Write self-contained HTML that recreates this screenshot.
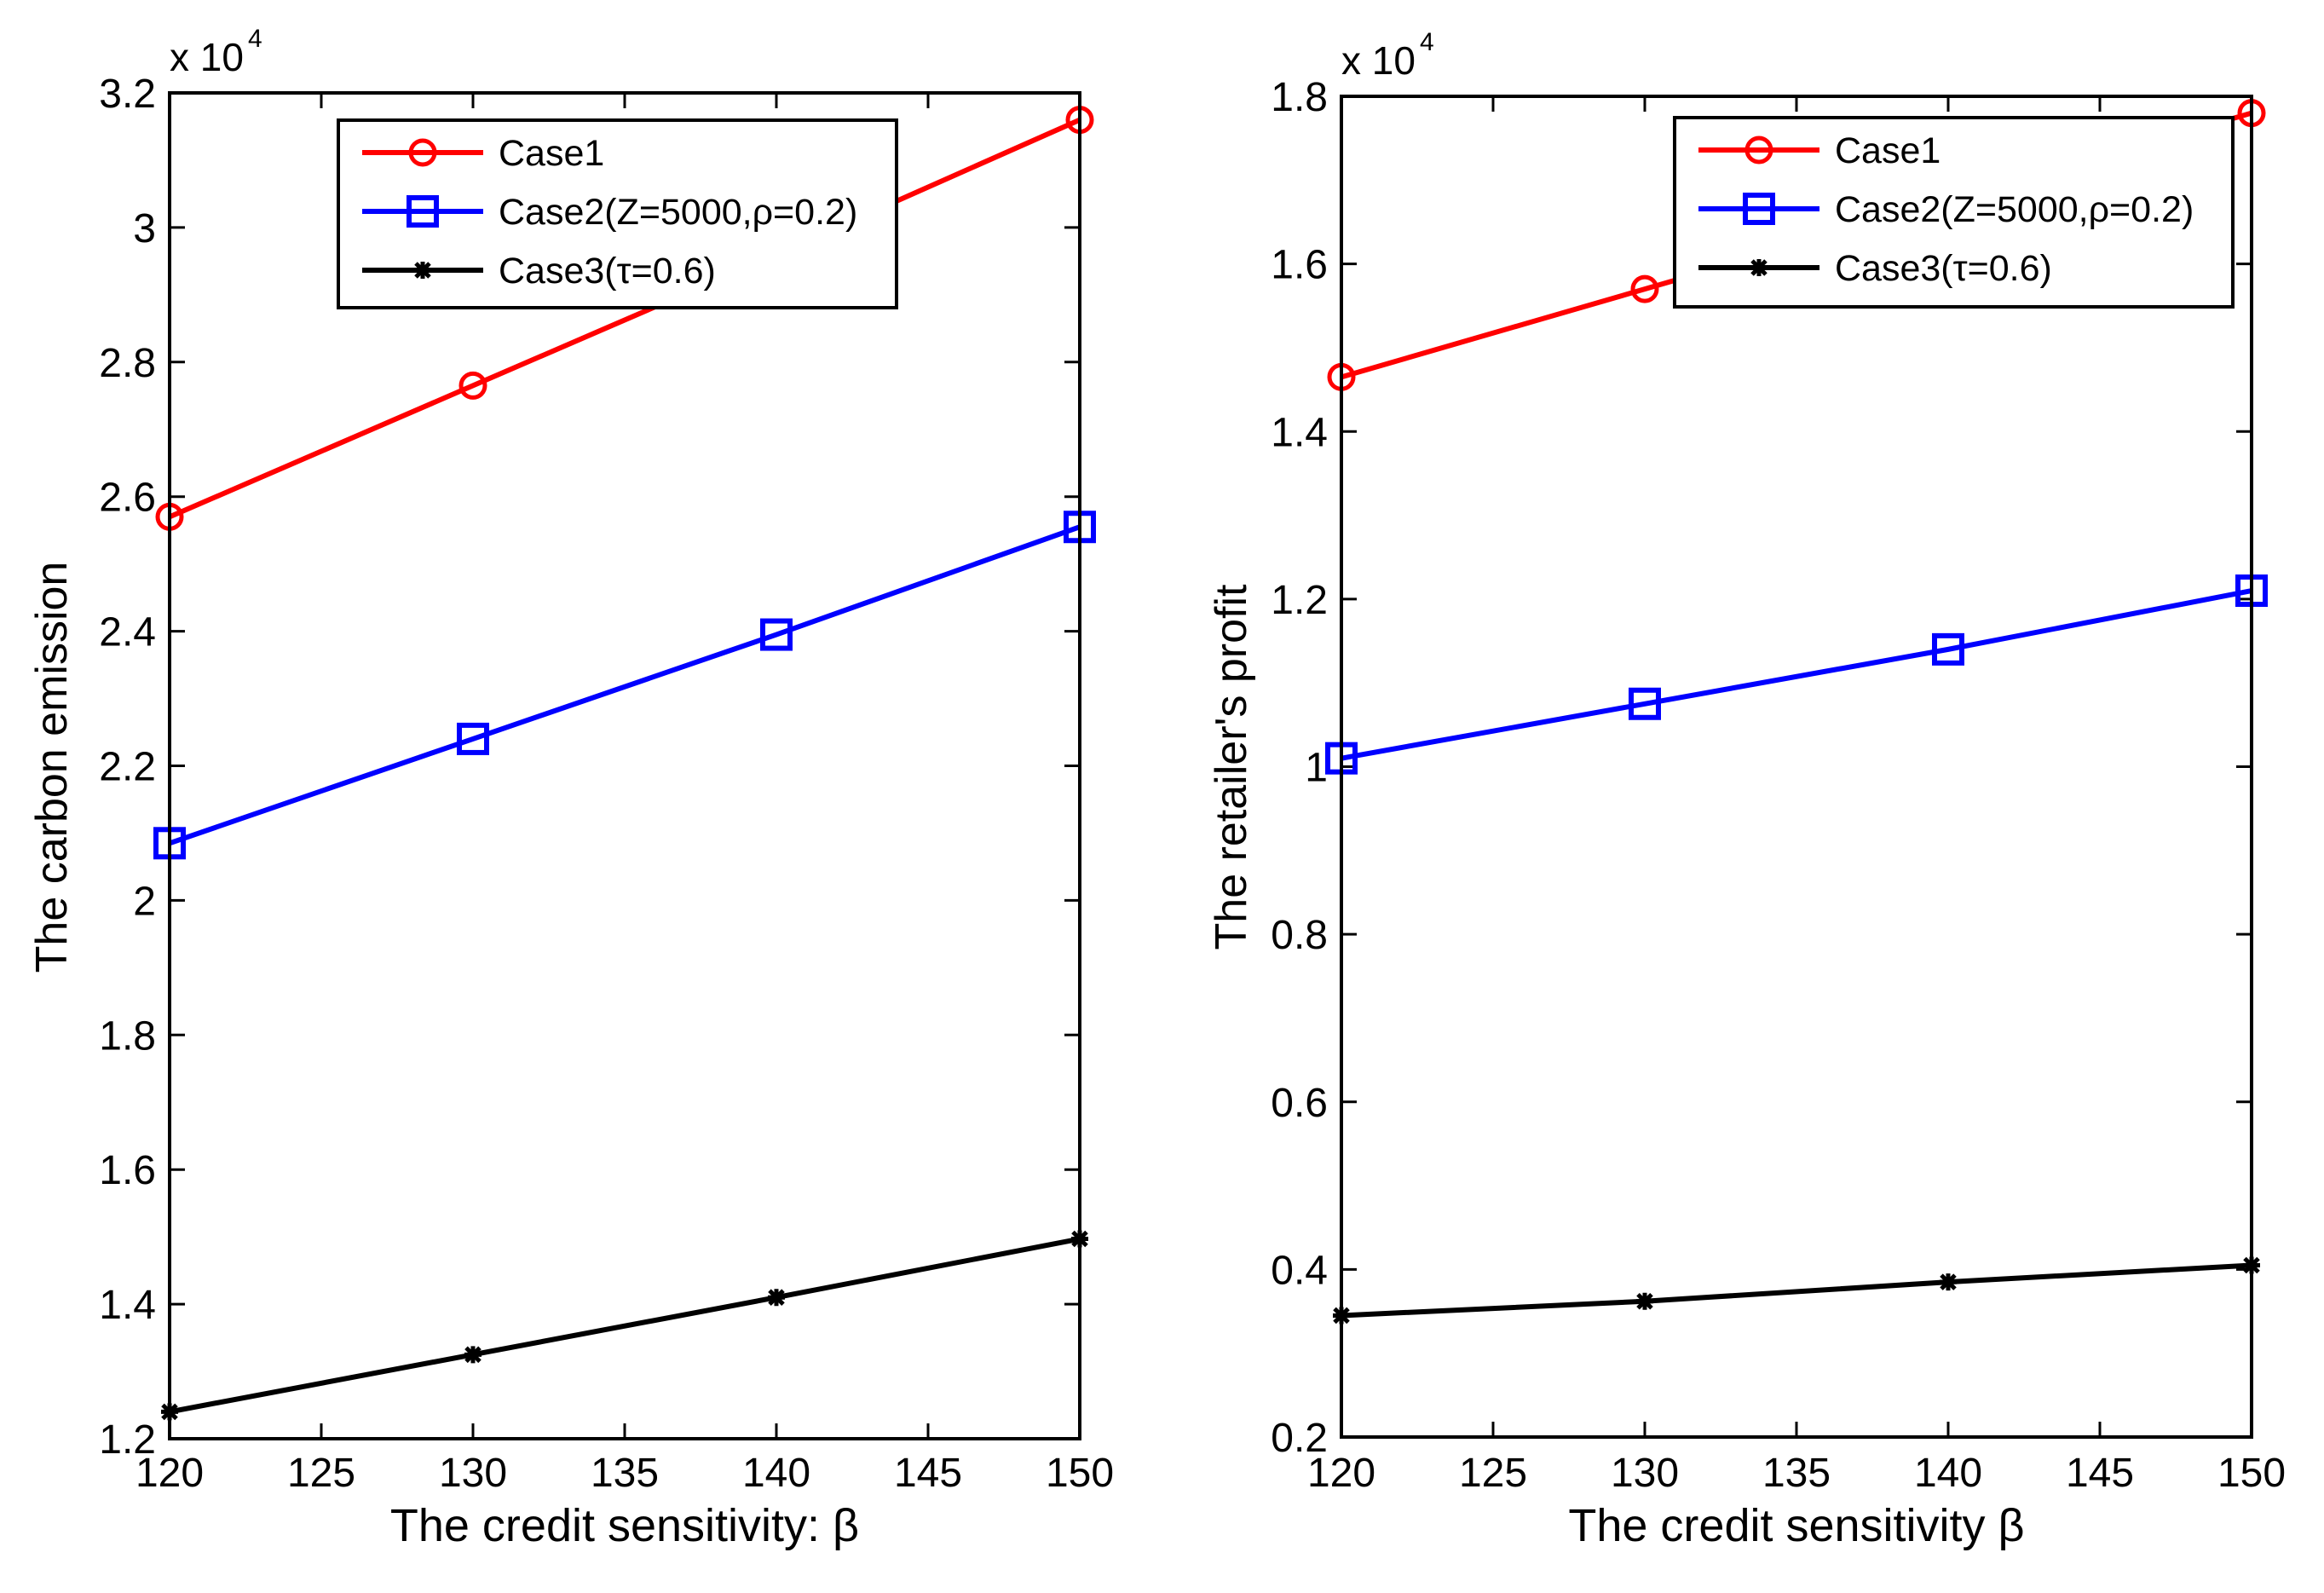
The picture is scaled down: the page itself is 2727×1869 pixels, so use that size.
<!DOCTYPE html>
<html><head><meta charset="utf-8"><style>
html,body{margin:0;padding:0;background:#fff;}
svg{display:block;font-family:"Liberation Sans",sans-serif;}
</style></head><body>
<svg id="fig" width="2727" height="1869" viewBox="0 0 2727 1869" xmlns="http://www.w3.org/2000/svg"></svg>
<script>
const xCategories = [120, 130, 140, 150];
const xTicks = [120, 125, 130, 135, 140, 145, 150];
const leftTicks = [1.2, 1.4, 1.6, 1.8, 2, 2.2, 2.4, 2.6, 2.8, 3, 3.2];
const leftTickLabels = ["1.2","1.4","1.6","1.8","2","2.2","2.4","2.6","2.8","3","3.2"];
const leftCase1 = [2.57, 2.765, 2.96, 3.16];
const leftCase2 = [2.085, 2.24, 2.395, 2.555];
const leftCase3 = [1.24, 1.325, 1.41, 1.497];
const rightTicks = [0.2, 0.4, 0.6, 0.8, 1, 1.2, 1.4, 1.6, 1.8];
const rightTickLabels = ["0.2","0.4","0.6","0.8","1","1.2","1.4","1.6","1.8"];
const rightCase1 = [1.465, 1.57, 1.675, 1.78];
const rightCase2 = [1.01, 1.075, 1.14, 1.21];
const rightCase3 = [0.345, 0.362, 0.385, 0.405];
const legendLabels = ["Case1", "Case2(Z=5000,\u03c1=0.2)", "Case3(\u03c4=0.6)"];

const NS = "http://www.w3.org/2000/svg";
const svg = document.getElementById("fig");
function mk(tag, attrs, parent) {
  const e = document.createElementNS(NS, tag);
  for (const k in attrs) e.setAttribute(k, attrs[k]);
  (parent || svg).appendChild(e);
  return e;
}

function drawPanel(cfg) {
  const g = mk("g", {});
  
  
  const {x0, x1, y0, y1, ymin, ymax} = cfg;
  const sx = v => x0 + (v - 120) / 30 * (x1 - x0);
  const sy = v => y1 - (v - ymin) / (ymax - ymin) * (y1 - y0);
  xTicks.forEach(t => {
    const x = sx(t);
    const tk = mk("path", {d:`M${x},${y1}V${y1-18}M${x},${y0}V${y0+18}`, stroke:"#000", "stroke-width":3}, g);
    
    
    const lb = mk("text", {x:x, y:1744, "font-size":48, "text-anchor":"middle"}, g);
    
    
    lb.textContent = t;
  });
  cfg.ticks.forEach((t, i) => {
    const y = sy(t);
    const tk = mk("path", {d:`M${x0},${y}H${x0+18}M${x1},${y}H${x1-18}`, stroke:"#000", "stroke-width":3}, g);
    
    
    const lb = mk("text", {x:x0-16, y:y+17, "font-size":48, "text-anchor":"end"}, g);
    
    
    lb.textContent = cfg.tickLabels[i];
  });
  const ex = mk("text", {x:x0, y:y0-26, "font-size":46}, g);
  
  
  ex.textContent = "x 10";
  const ex4 = mk("text", {x:x0+92, y:y0-54, "font-size":30}, g);
  
  
  ex4.textContent = "4";
  const series = [
    {vals: cfg.c1, color:"#ff0000", m:"circle", n:"case1"},
    {vals: cfg.c2, color:"#0000ff", m:"square", n:"case2"},
    {vals: cfg.c3, color:"#000000", m:"star", n:"case3"}
  ];
  function marker(m, x, y, color, parent) {
    let e;
    if (m === "circle") e = mk("circle", {cx:x, cy:y, r:14, fill:"none", stroke:color, "stroke-width":5}, parent);
    else if (m === "square") e = mk("rect", {x:x-16, y:y-16, width:32, height:32, fill:"none", stroke:color, "stroke-width":6}, parent);
    else e = mk("path", {d:`M${x-8},${y-8}L${x+8},${y+8}M${x+8},${y-8}L${x-8},${y+8}M${x},${y-10}V${y+10}M${x-10},${y}H${x+10}`, stroke:color, "stroke-width":5}, parent);
    return e;
  }
  series.forEach(s => {
    const pts = s.vals.map((v, i) => `${sx(xCategories[i])},${sy(v)}`).join(" ");
    const pl = mk("polyline", {points:pts, fill:"none", stroke:s.color, "stroke-width":6}, g);
    
    
    s.vals.forEach((v, i) => {
      const mkr = marker(s.m, sx(xCategories[i]), sy(v), s.color, g);
      
      
    });
  });
  const box = mk("rect", {x:x0, y:y0, width:x1-x0, height:y1-y0, fill:"none", stroke:"#000", "stroke-width":4}, g);
  
  
  const L = cfg.legend;
  const lg = mk("g", {}, g);
  
  
  mk("rect", {x:L.x, y:L.y, width:L.w, height:L.h, fill:"#fff", stroke:"#000", "stroke-width":4}, lg);
  series.forEach((s, i) => {
    const y = L.y + 38 + i * 69;
    const ent = mk("g", {}, lg);
    
    
    mk("line", {x1:L.x+28, x2:L.x+170, y1:y, y2:y, stroke:s.color, "stroke-width":6}, ent);
    marker(s.m, L.x+99, y, s.color, ent);
    const t = mk("text", {x:L.x+188, y:y+15, "font-size":43}, ent);
    t.textContent = legendLabels[i];
  });
  const xl = mk("text", {x:(x0+x1)/2, y:1808, "font-size":54, "text-anchor":"middle"}, g);
  
  
  xl.textContent = cfg.xlabel;
  const yl = mk("text", {x:0, y:0, "font-size":52, "text-anchor":"middle", transform:`translate(${cfg.ylx},${cfg.yly}) rotate(-90)`}, g);
  
  
  yl.textContent = cfg.ylabel;
}

drawPanel({name:"left-chart-carbon-emission", x0:199, x1:1267, y0:109, y1:1688, ymin:1.2, ymax:3.2,
  ticks:leftTicks, tickLabels:leftTickLabels, c1:leftCase1, c2:leftCase2, c3:leftCase3,
  legend:{x:397, y:141, w:655, h:220}, xlabel:"The credit sensitivity: \u03b2",
  ylabel:"The carbon emission", ylx:78, yly:900});
drawPanel({name:"right-chart-retailer-profit", x0:1574, x1:2642, y0:113, y1:1686, ymin:0.2, ymax:1.8,
  ticks:rightTicks, tickLabels:rightTickLabels, c1:rightCase1, c2:rightCase2, c3:rightCase3,
  legend:{x:1965, y:138, w:655, h:222}, xlabel:"The credit sensitivity \u03b2",
  ylabel:"The retailer's profit", ylx:1462, yly:900});
</script>
</body></html>
